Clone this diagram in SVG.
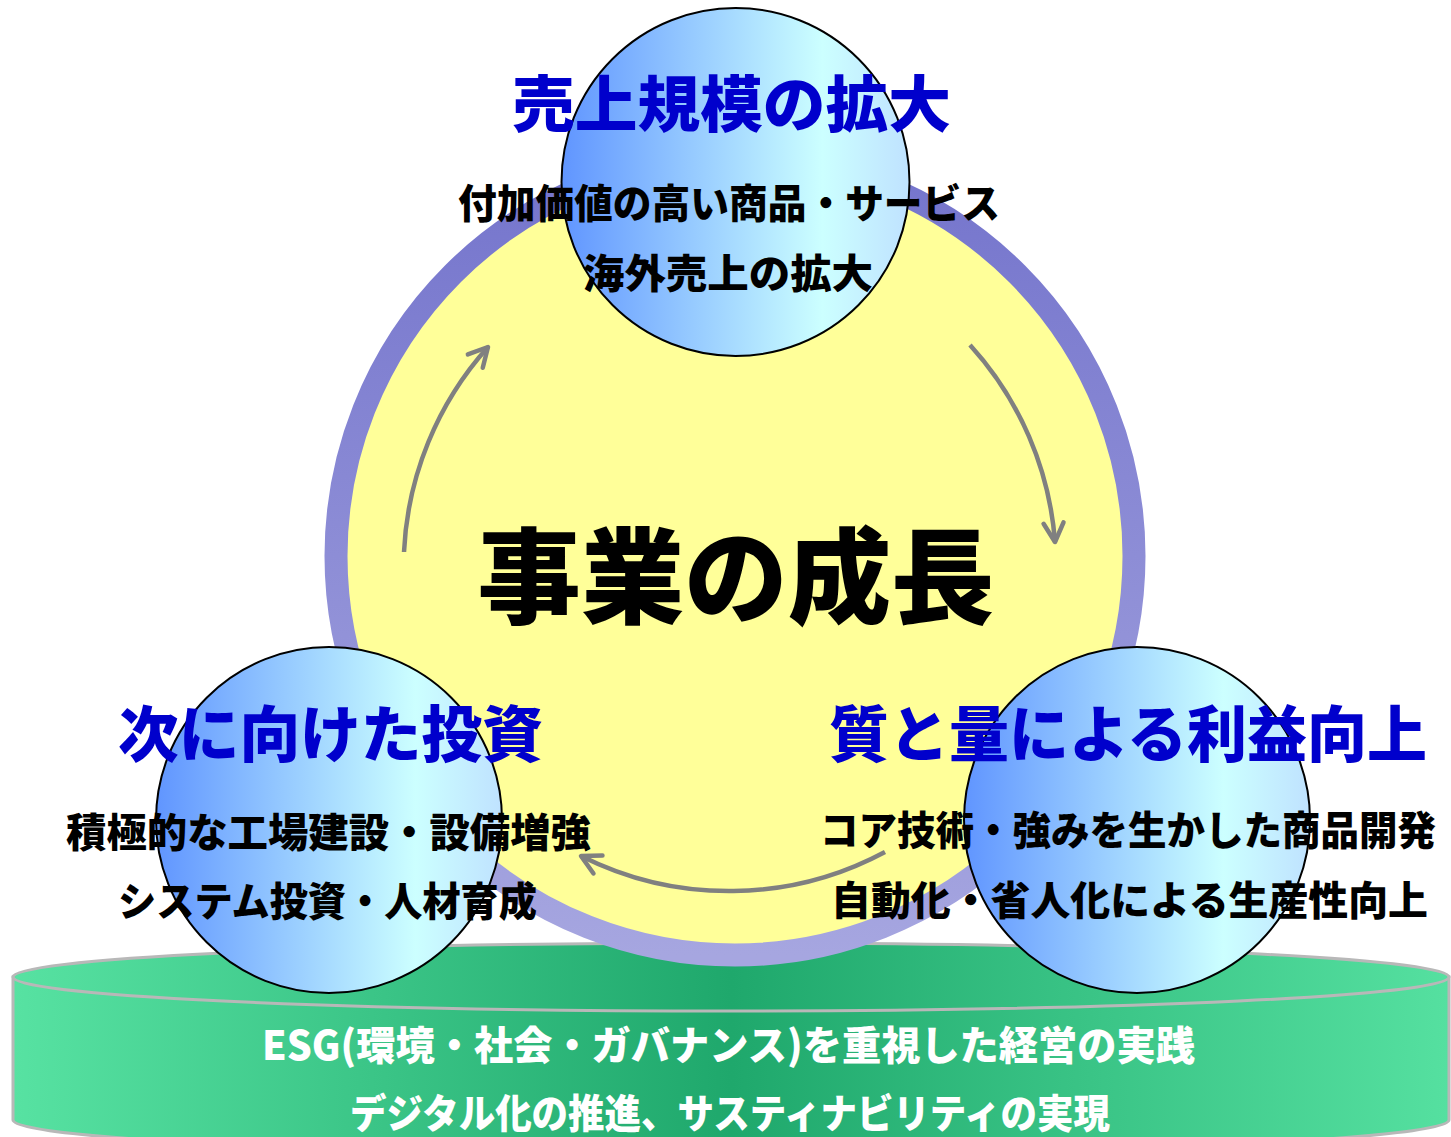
<svg xmlns="http://www.w3.org/2000/svg" width="1451" height="1137" viewBox="0 0 1451 1137">
<style>
.t{font-family:"Noto Sans CJK JP","Noto Sans",sans-serif;font-weight:900;text-anchor:middle}
.title{fill:#0000cc;font-size:61px}
.sub{fill:#000;font-size:40px}
.base{fill:#fff;font-size:40px}
.big{fill:#000;font-size:104px}
.node{stroke:#000;stroke-width:2;fill:url(#blue)}
.arc{fill:none;stroke:#808080;stroke-width:4.5;marker-end:url(#chev)}
</style>
<defs>
<linearGradient id="blue" x1="0" y1="0" x2="1" y2="0">
<stop offset="0" stop-color="#6095ff"/>
<stop offset="0.75" stop-color="#ccffff"/>
<stop offset="1" stop-color="#bfe2ff"/>
</linearGradient>
<linearGradient id="green" x1="0" y1="0" x2="1" y2="0">
<stop offset="0" stop-color="#57e2a2"/>
<stop offset="0.5" stop-color="#1fa86c"/>
<stop offset="1" stop-color="#55e0a0"/>
</linearGradient>
<linearGradient id="ring" x1="0" y1="0" x2="0" y2="1">
<stop offset="0" stop-color="#7474cc"/>
<stop offset="1" stop-color="#a6a6e0"/>
</linearGradient>
<marker id="chev" markerUnits="userSpaceOnUse" viewBox="-26 -14 30 28" markerWidth="30" markerHeight="28" refX="0" refY="0" orient="auto">
<path d="M-19,-10 L0,0 L-19,10" fill="none" stroke="#808080" stroke-width="4.5" stroke-linecap="round" stroke-linejoin="round"/>
</marker>
</defs>
<rect width="1451" height="1137" fill="#fff"/>
<g id="base">
<path d="M13,977 L13,1120 A718,34 0 0 0 1449,1120 L1449,977 Z" fill="url(#green)" stroke="#b8b8b8" stroke-width="3"/>
<ellipse cx="731" cy="977" rx="718" ry="34" fill="url(#green)" stroke="#b8b8b8" stroke-width="3"/>
<text class="t base" x="728.5" y="1060" textLength="933" lengthAdjust="spacingAndGlyphs">ESG(環境・社会・ガバナンス)を重視した経営の実践</text>
<text class="t base" x="730" y="1128" textLength="760" lengthAdjust="spacingAndGlyphs">デジタル化の推進、サスティナビリティの実現</text>
</g>
<g id="growth">
<circle cx="735" cy="556" r="399" fill="#ffff99" stroke="url(#ring)" stroke-width="23"/>
<text class="t big" x="736" y="616" textLength="517" lengthAdjust="spacingAndGlyphs">事業の成長</text>
</g>
<g id="connectors">
<path class="arc" d="M404,552 A330,330 0 0 1 488,347"/>
<path class="arc" d="M970,345 A330,330 0 0 1 1055,542"/>
<path class="arc" d="M885,852 A330,330 0 0 1 581,856"/>
</g>
<g id="sales">
<circle class="node" cx="735.5" cy="182" r="174"/>
<text class="t title" x="731.5" y="127" font-size="62" textLength="439" lengthAdjust="spacingAndGlyphs">売上規模の拡大</text>
<text class="t sub" x="729" y="218" textLength="542" lengthAdjust="spacingAndGlyphs">付加価値の高い商品・サービス</text>
<text class="t sub" x="728" y="288" textLength="290" lengthAdjust="spacingAndGlyphs">海外売上の拡大</text>
</g>
<g id="invest">
<circle class="node" cx="329" cy="820" r="173"/>
<text class="t title" x="330.5" y="757" textLength="425" lengthAdjust="spacingAndGlyphs">次に向けた投資</text>
<text class="t sub" x="328.5" y="847" textLength="525" lengthAdjust="spacingAndGlyphs">積極的な工場建設・設備増強</text>
<text class="t sub" x="327.5" y="916" textLength="419" lengthAdjust="spacingAndGlyphs">システム投資・人材育成</text>
</g>
<g id="profit">
<circle class="node" cx="1137" cy="820" r="173"/>
<text class="t title" x="1128" y="757" textLength="598" lengthAdjust="spacingAndGlyphs">質と量による利益向上</text>
<text class="t sub" x="1128" y="845" font-size="39" textLength="616" lengthAdjust="spacingAndGlyphs">コア技術・強みを生かした商品開発</text>
<text class="t sub" x="1129.5" y="915" textLength="597" lengthAdjust="spacingAndGlyphs">自動化・省人化による生産性向上</text>
</g>
</svg>
